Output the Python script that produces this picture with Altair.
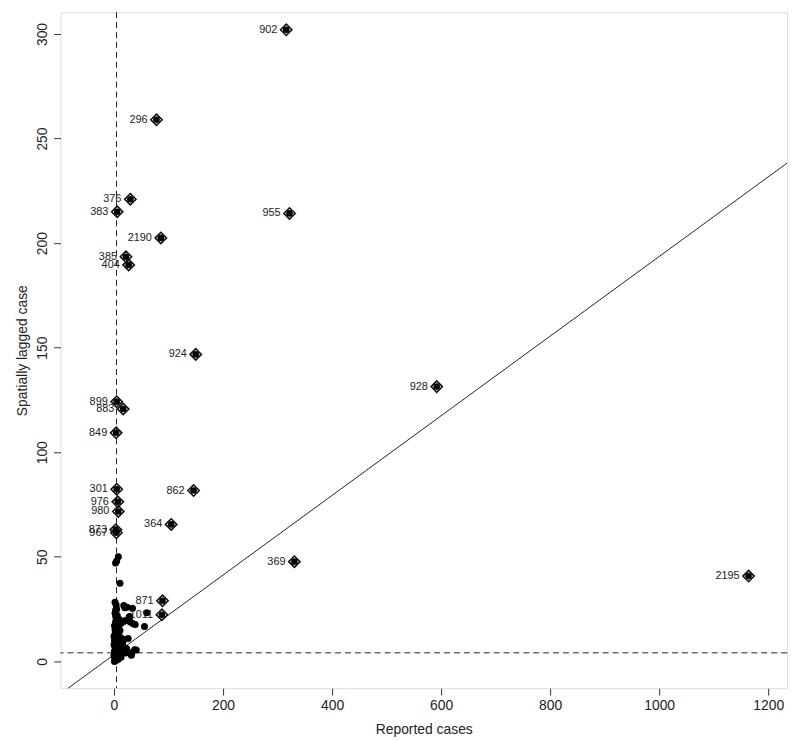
import altair as alt
import pandas as pd

# Influential observations (labelled)
inf_ids = ["902", "296", "376", "383", "955", "2190", "385", "404", "924", "928",
           "899", "883", "849", "301", "862", "976", "980", "364", "873", "967",
           "369", "871", "1011", "2195"]
inf_x = [316, 78, 30, 6, 322, 86, 22, 27, 150, 592,
         5, 17, 4, 5, 146, 7, 8, 105, 3.5, 4.5,
         331, 89, 88, 1164]
inf_y = [302, 259, 221, 215, 214.2, 202.5, 193.5, 189.6, 146.8, 131.4,
         124.2, 120.7, 109.3, 82.3, 81.7, 76.3, 71.7, 65.5, 63.0, 61.5,
         47.7, 29, 22.3, 40.8]

# Non-influential observations
pt_x = [5, 3, 8, 11, 2, 4, 20, 34, 60, 28, 17, 35, 39, 56, 11, 14, 18, 16, 23, 38,
        32, 11, 22, 18, 24, 29, 21, 30, 26, 41, 33, 20,
        1, 2, 3, 4, 5, 0, 1, 2, 3, 4, 5, 2, 1, 3, 4, 2, 6, 7, 6, 5, 7, 6, 5, 4,
        7, 3, 1, 0, 2, 0, 1, 3, 8, 9, 10, 9, 12, 13, 15, 8, 3, 5, 10, 12, 8, 6]
pt_y = [48, 47, 50, 37.4, 28.3, 27, 25.7, 25.4, 23.3, 21.2, 19, 18, 17.7, 16.7,
        14.8, 11, 10.5, 8.5, 6.2, 5.6, 3, 4.8, 4, 26.7, 25.9, 21.5, 19.6, 18.9,
        10.9, 5.4, 4.3, 6.2,
        0, 1, 2, 0.5, 1.5, 3, 5, 7, 9, 11, 13, 15, 17, 19, 21, 23, 4, 6, 8, 10,
        12, 14, 16, 18, 20, 22, 10, 12, 13, 8, 2, 6, 3, 7, 9, 13, 6, 2, 5, 1,
        24.5, 25, 20, 18, 16, 22]

# Reference lines
mean_x = 4.7
mean_y = 4.1
slope = 0.1904

x_dom = [-98, 1234.5]
y_dom = [-12.8, 310.4]
x_ticks = [0, 200, 400, 600, 800, 1000, 1200]
y_ticks = [0, 50, 100, 150, 200, 250, 300]

inf_df = pd.DataFrame({"id": inf_ids, "x": inf_x, "y": inf_y})
pt_df = pd.DataFrame({"x": pt_x, "y": pt_y})
line_df = pd.DataFrame({
    "x": x_dom,
    "y": [mean_y + slope * (v - mean_x) for v in x_dom],
})
vline_df = pd.DataFrame({"x": [mean_x]})
hline_df = pd.DataFrame({"y": [mean_y]})

FONT = "Liberation Sans"

xs = alt.Scale(domain=x_dom, nice=False, zero=False)
ys = alt.Scale(domain=y_dom, nice=False, zero=False)

x_axis = alt.Axis(values=x_ticks, title="Reported cases", grid=False, domain=False,
                  tickColor="#333", tickSize=7, labelFontSize=14, labelColor="#222",
                  labelFont=FONT, titleFont=FONT, titleFontSize=14, titleFontWeight="normal",
                  titleColor="#222", labelPadding=4, titlePadding=10, format="d")
y_axis = alt.Axis(values=y_ticks, title="Spatially lagged case", grid=False, domain=False,
                  tickColor="#333", tickSize=7, labelFontSize=14, labelColor="#222",
                  labelFont=FONT, titleFont=FONT, titleFontSize=14, titleFontWeight="normal",
                  titleColor="#222", labelAngle=-90, labelAlign="center",
                  labelBaseline="bottom", labelPadding=4, titlePadding=6, format="d")

base_x = alt.X("x:Q", scale=xs, axis=x_axis)
base_y = alt.Y("y:Q", scale=ys, axis=y_axis)

vline = alt.Chart(vline_df).mark_rule(color="#222", strokeDash=[6, 4], strokeWidth=1).encode(
    x=alt.X("x:Q", scale=xs))
hline = alt.Chart(hline_df).mark_rule(color="#222", strokeDash=[6, 4], strokeWidth=1).encode(
    y=alt.Y("y:Q", scale=ys))
reg = alt.Chart(line_df).mark_line(color="#222", strokeWidth=1, clip=True).encode(
    x=alt.X("x:Q", scale=xs), y=alt.Y("y:Q", scale=ys))

pts = alt.Chart(pt_df).mark_circle(color="black", size=50, opacity=1).encode(
    x=base_x, y=base_y)

inf_dot = alt.Chart(inf_df).mark_circle(color="black", size=45, opacity=1).encode(
    x=alt.X("x:Q", scale=xs), y=alt.Y("y:Q", scale=ys))
inf_dia = alt.Chart(inf_df).mark_point(shape="diamond", filled=False, color="#111",
                                       strokeWidth=1.6, size=130, opacity=1).encode(
    x=alt.X("x:Q", scale=xs), y=alt.Y("y:Q", scale=ys))
labels = alt.Chart(inf_df).mark_text(align="right", baseline="middle", dx=-9, fontSize=11,
                                     font=FONT, color="#222").encode(
    x=alt.X("x:Q", scale=xs), y=alt.Y("y:Q", scale=ys), text="id:N")

chart = alt.layer(hline, vline, reg, pts, inf_dot, inf_dia, labels).properties(
    width=733, height=682, padding={"left": 7, "top": 0, "right": 0, "bottom": 0}
).configure_view(stroke="#222", strokeWidth=1.2).configure(background="white")

chart.save("out.html", embed_options={"renderer": "svg", "actions": False})
